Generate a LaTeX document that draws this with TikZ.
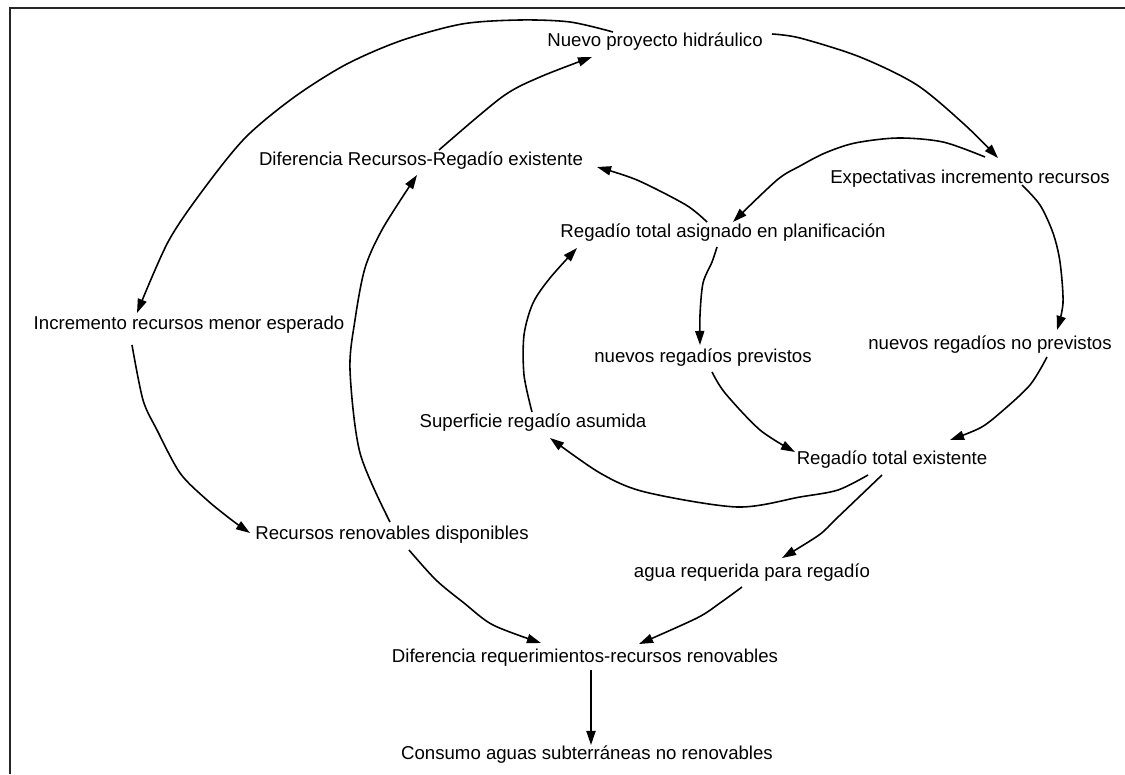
\documentclass[tikz,border=0pt]{standalone}
\usepackage{fontspec}
\setmainfont{Liberation Sans}
\usetikzlibrary{arrows.meta}
\begin{document}
\begin{tikzpicture}[x=0.02cm,y=-0.02cm,
  lbl/.style={inner sep=0pt, text height=7.6pt, text depth=2.2pt, font=\fontsize{10.6}{12}\selectfont},
  link/.style={line width=0.9pt, -{Triangle[length=8pt,width=5.2pt]}},
  frame/.style={line width=1.1pt, black!85}]
\useasboundingbox (0,0) rectangle (1125,774);
\draw[frame] (10,774) -- (10,8) -- (1125,8);

\node[lbl] (nuevo)  at (655,42)  {Nuevo proyecto hidráulico};
\node[lbl] (expect) at (970,179) {Expectativas incremento recursos};
\node[lbl] (difrr)  at (421,161) {Diferencia Recursos-Regadío existente};
\node[lbl] (rta)    at (723,233) {Regadío total asignado en planificación};
\node[lbl] (incr)   at (189,325) {Incremento recursos menor esperado};
\node[lbl] (nrp)    at (703,358) {nuevos regadíos previstos};
\node[lbl] (nrnp)   at (990,345) {nuevos regadíos no previstos};
\node[lbl] (sup)    at (533,423) {Superficie regadío asumida};
\node[lbl] (rte)    at (892,460) {Regadío total existente};
\node[lbl] (rrd)    at (392,535) {Recursos renovables disponibles};
\node[lbl] (agua)   at (752,573) {agua requerida para regadío};
\node[lbl] (dreq)   at (585,658) {Diferencia requerimientos-recursos renovables};
\node[lbl] (cons)   at (587,755) {Consumo aguas subterráneas no renovables};

% Nuevo proyecto -> Expectativas
\draw[link] plot[smooth,tension=0.5] coordinates {([shift={(117,-8)}]nuevo.center) (800,38) (860,57) (917,85) (965,125) ([shift={(28,-21)}]expect.center)};
% Expectativas -> Regadio total asignado
\draw[link] plot[smooth,tension=0.5] coordinates {([shift={(15,-22)}]expect.center) (943,142) (898,138) (855,143) (825,153) (800,166) (777,180) ([shift={(10,-11)}]rta.center)};
% Expectativas -> nuevos regadios no previstos
\draw[link] plot[smooth,tension=0.5] coordinates {([shift={(52,6)}]expect.center) (1040,205) (1053,233) (1060,262) (1063,303) ([shift={(67,-15)}]nrnp.center)};
% Regadio total asignado -> Diferencia Recursos-Regadio
\draw[link] plot[smooth,tension=0.5] coordinates {([shift={(-16,-11)}]rta.center) (686,205) (637,180) ([shift={(176,6)}]difrr.center)};
% Diferencia Recursos-Regadio -> Nuevo proyecto
\draw[link] plot[smooth,tension=0.5] coordinates {([shift={(18,-11)}]difrr.center) (502,97) (540,77) ([shift={(-63,15)}]nuevo.center)};
% Nuevo proyecto -> Incremento recursos menor esperado
\draw[link] plot[smooth,tension=0.5] coordinates {([shift={(-42,-10)}]nuevo.center) (570,22) (520,20) (462,24) (400,41) (345,65) (293,98) (245,138) (203,190) (168,242) ([shift={(-52,-12)}]incr.center)};
% Incremento -> Recursos renovables
\draw[link] plot[smooth,tension=0.5] coordinates {([shift={(-57,20)}]incr.center) (143,400) (157,430) (180,473) (207,500) (233,521) ([shift={(-142,-2)}]rrd.center)};
% Recursos renovables -> Diferencia Recursos-Regadio
\draw[link] plot[smooth,tension=0.5] coordinates {([shift={(-2,-13)}]rrd.center) (360,453) (350,370) (355,320) (365,268) (383,228) ([shift={(-4,14)}]difrr.center)};
% Regadio total asignado -> nuevos regadios previstos
\draw[link] plot[smooth,tension=0.5] coordinates {([shift={(-6,14)}]rta.center) (712,262) (703,283) (700,315) ([shift={(-3,-13)}]nrp.center)};
% nuevos regadios previstos -> Regadio total existente
\draw[link] plot[smooth,tension=0.5] coordinates {([shift={(9,14)}]nrp.center) (725,393) (760,430) ([shift={(-97,-8)}]rte.center)};
% nuevos regadios no previstos -> Regadio total existente
\draw[link] plot[smooth,tension=0.5] coordinates {([shift={(57,12)}]nrnp.center) (1030,385) (1000,413) (980,428) ([shift={(58,-20)}]rte.center)};
% Regadio total existente -> Superficie regadio asumida
\draw[link] plot[smooth,tension=0.5] coordinates {([shift={(-24,15)}]rte.center) (838,490) (800,497) (737,507) (645,492) (600,473) ([shift={(17,15)}]sup.center)};
% Superficie regadio asumida -> Regadio total asignado
\draw[link] plot[smooth,tension=0.5] coordinates {([shift={(-1,-11)}]sup.center) (524,375) (524,335) (533,303) (550,278) ([shift={(-146,15)}]rta.center)};
% Regadio total existente -> agua requerida
\draw[link] plot[smooth,tension=0.5] coordinates {([shift={(-10,15)}]rte.center) (837,518) (819,535) ([shift={(30,-15)}]agua.center)};
% agua requerida -> Diferencia requerimientos
\draw[link] plot[smooth,tension=0.5] coordinates {([shift={(-10,14)}]agua.center) (720,603) (697,618) ([shift={(54,-14)}]dreq.center)};
% Recursos renovables -> Diferencia requerimientos
\draw[link] plot[smooth,tension=0.5] coordinates {([shift={(17,15)}]rrd.center) (436,580) (464,603) (493,625) ([shift={(-44,-15)}]dreq.center)};
% Diferencia requerimientos -> Consumo
\draw[link] ([shift={(6,12)}]dreq.center) -- ([shift={(4,-10)}]cons.center);
\end{tikzpicture}
\end{document}
